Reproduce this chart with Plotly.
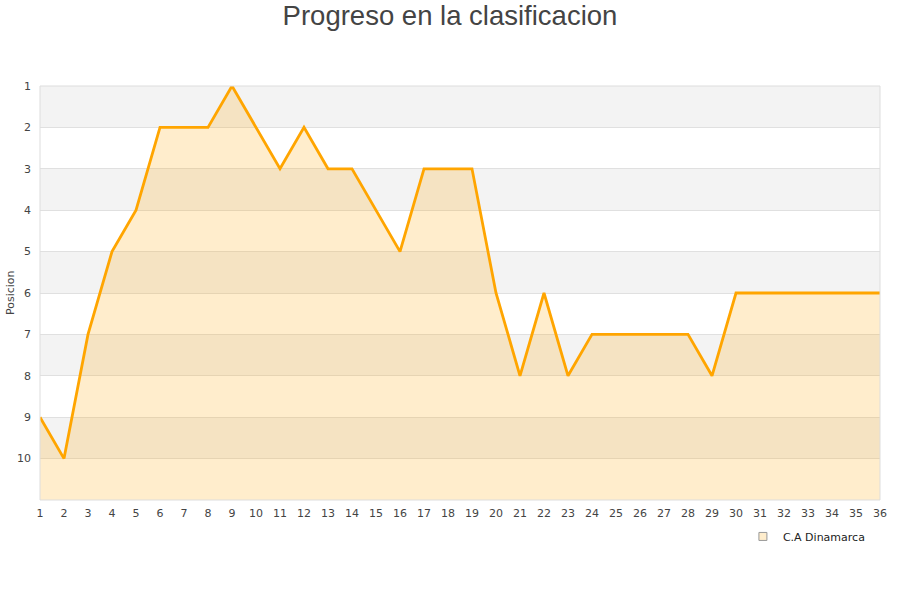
import plotly.graph_objects as go

jornadas = list(range(1, 37))
posiciones = [9, 10, 7, 5, 4, 2, 2, 2, 1, 2, 3, 2, 3, 3, 4, 5, 3, 3, 3, 6,
              8, 6, 8, 7, 7, 7, 7, 7, 8, 6, 6, 6, 6, 6, 6, 6]
equipo = "C.A Dinamarca"
y_ticks = list(range(1, 11))

fig = go.Figure()

# baseline for fill (bottom of reversed axis)
fig.add_trace(go.Scatter(x=jornadas, y=[11] * len(jornadas), mode="lines",
                         line=dict(width=0), showlegend=False, hoverinfo="skip"))
fig.add_trace(go.Scatter(x=jornadas, y=posiciones, mode="lines", name=equipo,
                         line=dict(color="#FFA500", width=2.8),
                         fill="tonexty", fillcolor="rgba(255,165,0,0.2)",
                         showlegend=False))
# legend entry
fig.add_trace(go.Scatter(x=[None], y=[None], mode="markers", name=equipo,
                         marker=dict(symbol="square", size=8, color="#FFEDCC",
                                     line=dict(color="#999999", width=1))))

shapes = []
for k in range(1, 11):
    if k % 2 == 1:
        shapes.append(dict(type="rect", xref="paper", yref="y", x0=0, x1=1,
                           y0=k, y1=k + 1, fillcolor="#F3F3F3", line=dict(width=0),
                           layer="below"))
shapes.append(dict(type="rect", xref="paper", yref="paper", x0=0, x1=1, y0=0, y1=1,
                   line=dict(color="#DDDDDD", width=1), layer="above"))

fig.update_layout(
    width=900, height=600,
    margin=dict(l=40, r=20, t=86, b=100, autoexpand=False),
    paper_bgcolor="white", plot_bgcolor="white",
    title=dict(text="Progreso en la clasificacion", x=0.5, xanchor="center",
               xref="container", y=0.975, yanchor="middle",
               font=dict(family="Liberation Sans, Arial", size=27.5, color="#444444")),
    shapes=shapes,
    annotations=[dict(text="Posicion", textangle=-90, xref="paper", yref="paper",
                      x=-0.0357, y=0.5, xanchor="center", yanchor="middle",
                      showarrow=False, font=dict(size=11, color="#444444"))],
    font=dict(family="DejaVu Sans", size=11, color="#444444"),
    xaxis=dict(range=[1, 36], tickmode="array", tickvals=jornadas, automargin=False,
               showgrid=False, zeroline=False, showline=False, ticks="",
               ticklabelstandoff=5,
               tickfont=dict(size=11, color="#444444")),
    yaxis=dict(range=[11, 1], tickmode="array", tickvals=y_ticks, automargin=False,
               showgrid=True, gridcolor="#E0E0E0", gridwidth=1, zeroline=False,
               showline=False, ticks="", ticklabelstandoff=8,
               tickfont=dict(size=11, color="#444444")),
    legend=dict(x=0.988, xanchor="right", y=-0.053, yanchor="top",
                font=dict(size=11, color="#222222"), bgcolor="rgba(0,0,0,0)"),
    showlegend=True,
)

fig.write_html("out.html", config={"displayModeBar": False},
               post_script="document.body.style.margin='0';")
